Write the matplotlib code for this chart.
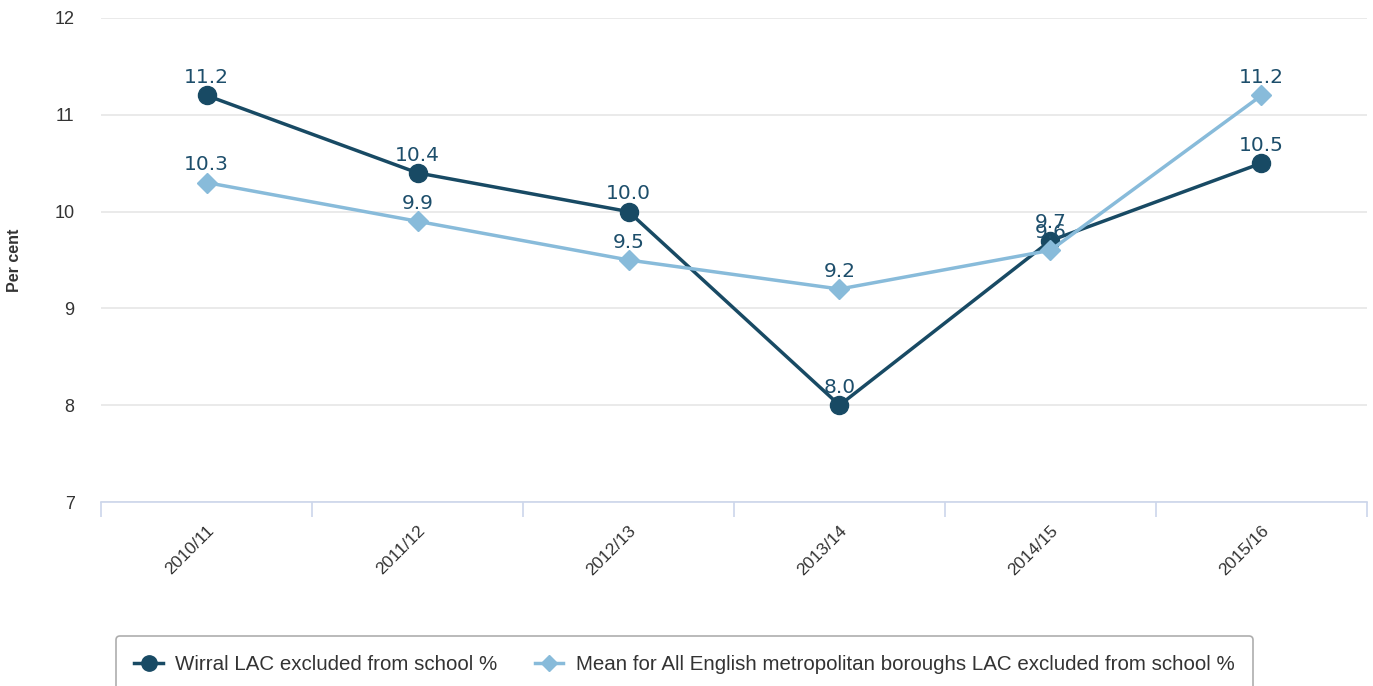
import matplotlib
matplotlib.use("Agg")

import matplotlib.pyplot as plt

years = ["2010/11", "2011/12", "2012/13", "2013/14", "2014/15", "2015/16"]
wirral = [11.2, 10.4, 10.0, 8.0, 9.7, 10.5]
met_mean = [10.3, 9.9, 9.5, 9.2, 9.6, 11.2]

dark = "#184a64"
light = "#88bbda"
label_color = "#1d4e6b"

plt.rcParams["font.family"] = ["Liberation Sans", "DejaVu Sans"]

fig = plt.figure(figsize=(13.73, 6.86), dpi=100)
ax = fig.add_axes([0.0736, 0.2682, 0.9220, 0.7056])

x = range(len(years))
ax.plot(x, wirral, color=dark, linewidth=2.5, marker="o", markersize=13,
        label="Wirral LAC excluded from school %", zorder=3)
ax.plot(x, met_mean, color=light, linewidth=2.5, marker="D", markersize=10,
        label="Mean for All English metropolitan boroughs LAC excluded from school %", zorder=4)

for series in (wirral, met_mean):
    for i, v in enumerate(series):
        ax.annotate(f"{v:.1f}", xy=(i, v), xytext=(0, 6), textcoords="offset points",
                    ha="center", va="bottom", fontsize=14.5, color=label_color,
                    family="DejaVu Sans", zorder=5)

ax.set_xlim(-0.5, len(years) - 0.5)
ax.set_ylim(7, 12)
ax.set_yticks([7, 8, 9, 10, 11, 12])
ax.yaxis.grid(True, color="#e6e6e6", linewidth=1.2)
ax.set_axisbelow(True)

for s in ("top", "right", "left"):
    ax.spines[s].set_visible(False)
ax.spines["bottom"].set_color("#ccd6eb")
ax.spines["bottom"].set_linewidth(1.2)

# tick marks between categories, labels at category centres
ax.set_xticks([i - 0.5 for i in range(len(years) + 1)], minor=False)
ax.set_xticklabels([])
ax.tick_params(axis="x", which="major", length=11, color="#ccd6eb", width=1.2)
ax.set_xticks(list(x), minor=True)
ax.set_xticklabels(years, minor=True, rotation=45, ha="right", rotation_mode="anchor",
                   fontsize=12.5, color="#333333")
ax.tick_params(axis="x", which="minor", length=0, pad=15)
ax.tick_params(axis="y", length=0, labelsize=13, labelcolor="#333333", pad=19)

ax.set_ylabel("Per cent", fontsize=11.5, fontweight="bold", color="#333333")
ax.yaxis.set_label_coords(-0.0625, 0.5)

leg = fig.legend(loc="upper center", bbox_to_anchor=(0.4985, 1 - 626 / 686), ncol=2,
                 fontsize=14.8, frameon=True, fancybox=True, edgecolor="#999999",
                 handlelength=1.4, handletextpad=0.6, columnspacing=1.8,
                 borderpad=0.9, markerscale=0.85)
leg.get_frame().set_linewidth(1.2)
for t in leg.get_texts():
    t.set_color("#333333")

fig.savefig("out.png", dpi=100)
